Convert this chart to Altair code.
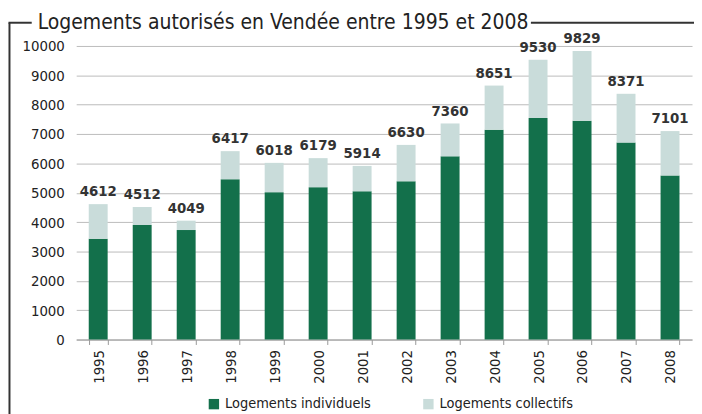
import altair as alt
import pandas as pd

years = ["1995", "1996", "1997", "1998", "1999", "2000", "2001",
         "2002", "2003", "2004", "2005", "2006", "2007", "2008"]
totals = [4612, 4512, 4049, 6417, 6018, 6179, 5914, 6630, 7360, 8651, 9530, 9829, 8371, 7101]
individuels = [3430, 3900, 3730, 5460, 5020, 5190, 5050, 5390, 6240, 7150, 7550, 7450, 6710, 5590]
collectifs = [1182, 612, 319, 957, 998, 989, 864, 1240, 1120, 1501, 1980, 2379, 1661, 1511]
y_ticks = [0, 1000, 2000, 3000, 4000, 5000, 6000, 7000, 8000, 9000, 10000]
series = ["Logements individuels", "Logements collectifs"]
colors = ["#13704B", "#C9DCDA"]
title_text = "Logements autorisés en Vendée entre 1995 et 2008"

FONT = "DejaVu Sans Condensed, DejaVu Sans, sans-serif"

rows = []
for i, y in enumerate(years):
    rows.append({"year": y, "serie": series[0], "value": individuels[i], "ord": 0})
    rows.append({"year": y, "serie": series[1], "value": collectifs[i], "ord": 1})
df = pd.DataFrame(rows)
tot_df = pd.DataFrame({"year": years, "total": totals})

xaxis = alt.Axis(labelAngle=-90, labelAlign="right", labelBaseline="middle",
                 labelFontSize=15, labelFont=FONT, labelColor="#222",
                 labelPadding=5, tickBand="extent", tickSize=5,
                 tickColor="#999", domainColor="#999", grid=False)
xscale = alt.Scale(paddingInner=0.57, paddingOuter=0.285)
yaxis = alt.Axis(values=y_ticks, tickCount=30, format="d",
                 labelOverlap=False, labelFontSize=15,
                 labelFont=FONT, labelColor="#222", ticks=False,
                 domain=False, labelPadding=12, gridColor="#BBBBBB",
                 gridWidth=1)
yscale = alt.Scale(domain=[0, 10000], nice=False)

bars = alt.Chart(df).mark_bar().encode(
    x=alt.X("year:N", sort=years, title=None, scale=xscale, axis=xaxis),
    y=alt.Y("value:Q", stack="zero", title=None, scale=yscale, axis=yaxis),
    color=alt.Color("serie:N", sort=series,
                    scale=alt.Scale(domain=series, range=colors),
                    legend=alt.Legend(orient="none", legendX=132, legendY=355,
                                      direction="horizontal", title=None,
                                      symbolType="square", symbolSize=110,
                                      symbolStrokeWidth=0,
                                      labelFontSize=14.6, labelFont=FONT,
                                      labelColor="#222", columnPadding=50,
                                      labelOffset=4)),
    order=alt.Order("ord:Q"),
)

labels = alt.Chart(tot_df).mark_text(
    fontSize=15, fontWeight="bold", font=FONT, color="#333", dy=-8,
    baseline="alphabetic"
).encode(
    x=alt.X("year:N", sort=years, title=None, scale=xscale, axis=xaxis),
    y=alt.Y("total:Q", title=None, scale=yscale, axis=yaxis),
    text=alt.Text("total:Q", format="d"),
)

one = pd.DataFrame({"a": [0]})
line_left = alt.Chart(one).mark_rule(color="#333", strokeWidth=2).encode(
    x=alt.value(-67.5), y=alt.value(-23.5), y2=alt.value(380))
line_top = alt.Chart(one).mark_rule(color="#333", strokeWidth=2).encode(
    x=alt.value(-68.5), x2=alt.value(-45), y=alt.value(-23.5))
line_right = alt.Chart(one).mark_rule(color="#333", strokeWidth=2).encode(
    x=alt.value(460), x2=alt.value(640), y=alt.value(-23.5))
title = alt.Chart(one).mark_text(
    text=title_text, fontSize=21.2, font=FONT, color="#222", align="left",
    baseline="alphabetic"
).encode(x=alt.value(-39), y=alt.value(-17))

chart = alt.layer(bars, labels, line_left, line_top, line_right, title).properties(
    width=623, height=297,
    autosize=alt.AutoSizeParams(type="none"),
    padding={"left": 69, "top": 36, "right": 2, "bottom": 80},
).configure_view(stroke=None)

chart.save("out.html", embed_options={"renderer": "svg", "actions": False})
